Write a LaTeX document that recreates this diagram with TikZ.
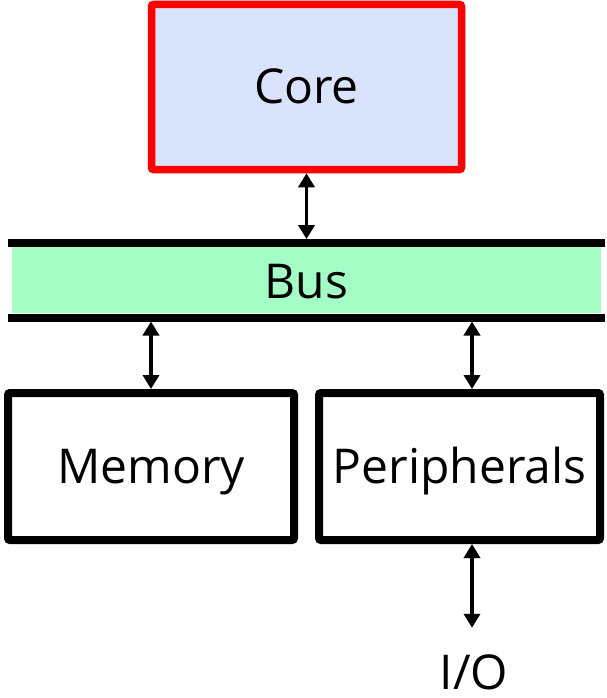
\documentclass[tikz,border=0pt]{standalone}
\usepackage{fontspec}
\setmainfont{Open Sans}
\usetikzlibrary{arrows.meta}
\definecolor{corefill}{RGB}{217,227,252}
\definecolor{busfill}{RGB}{164,253,196}
\definecolor{corered}{RGB}{255,0,0}
\begin{document}
\begin{tikzpicture}[x=1pt,y=-1pt,
  lbl/.style={font=\fontsize{48}{56}\selectfont, text height=34pt, text depth=0pt, inner sep=0pt},
  corebox/.style={lbl, draw=corered, fill=corefill, line width=7.5pt, rounded corners=2pt,
    minimum width=310pt, minimum height=165pt},
  unit/.style={lbl, draw=black, line width=8pt, rounded corners=2pt, minimum height=147pt},
  busbody/.style={lbl, fill=busfill, minimum width=589pt, minimum height=66pt},
  busline/.style={draw=black, line width=8pt},
  arr/.style={{Triangle[width=16pt,length=14pt]}-{Triangle[width=16pt,length=14pt]}, line width=3.5pt}
]
\useasboundingbox (0,0) rectangle (607,698);

% processor core
\node[corebox] (core) at (306.5,87) {Core};

% system bus: filled band between two heavy rails
\node[busbody] (bus) at (306.5,280.3) {\raisebox{-1.5pt}{Bus}};
\draw[busline] ([xshift=-4pt,yshift=4pt]bus.north west) -- ([xshift=4pt,yshift=4pt]bus.north east);
\draw[busline] ([xshift=-4pt,yshift=-4pt]bus.south west) -- ([xshift=4pt,yshift=-4pt]bus.south east);

% units hanging off the bus
\node[unit, minimum width=286pt] (mem) at (151,466.5) {Memory};
\node[unit, minimum width=281pt] (per) at (459.5,466.5) {Peripherals};
\node[lbl] (io) at (474,672) {I/O};

% connections
\draw[arr] (core.south) -- ([yshift=8pt]bus.north);
\draw[arr] ([yshift=-8pt]bus.south -| mem.north) -- (mem.north);
\draw[arr] ([xshift=12.5pt,yshift=-8pt]bus.south -| per.north) -- ([xshift=12.5pt]per.north);
\draw[arr] ([xshift=12.5pt]per.south) -- ([xshift=12.5pt,yshift=27pt]per.south |- io.north);
\end{tikzpicture}
\end{document}
